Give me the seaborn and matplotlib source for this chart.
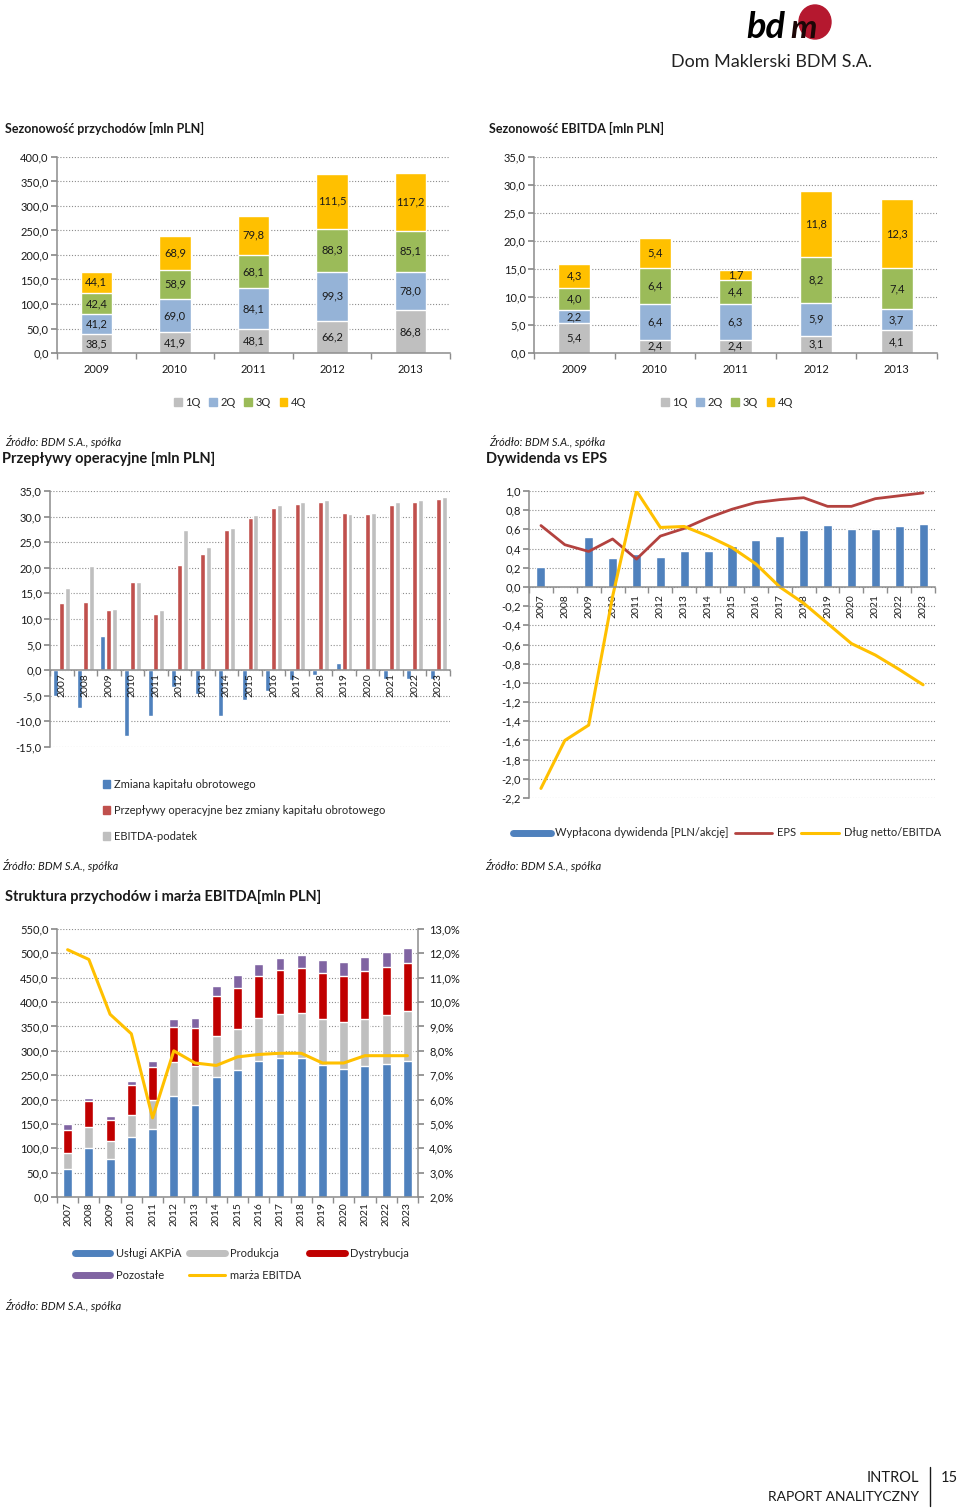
import matplotlib
matplotlib.use("Agg")
import matplotlib.pyplot as plt
import numpy as np
import pandas as pd
import seaborn as sns
from matplotlib.lines import Line2D
from matplotlib.patches import Ellipse, Rectangle
from matplotlib.ticker import FixedLocator, FuncFormatter

# ---------------- data ----------------
q_years = ["2009", "2010", "2011", "2012", "2013"]
quarters = ["1Q", "2Q", "3Q", "4Q"]
rev_1q = [38.5, 41.9, 48.1, 66.2, 86.8]
rev_2q = [41.2, 69.0, 84.1, 99.3, 78.0]
rev_3q = [42.4, 58.9, 68.1, 88.3, 85.1]
rev_4q = [44.1, 68.9, 79.8, 111.5, 117.2]
ebitda_1q = [5.4, 2.4, 2.4, 3.1, 4.1]
ebitda_2q = [2.2, 6.4, 6.3, 5.9, 3.7]
ebitda_3q = [4.0, 6.4, 4.4, 8.2, 7.4]
ebitda_4q = [4.3, 5.4, 1.7, 11.8, 12.3]

years = [str(y) for y in range(2007, 2024)]
wc_change = [-5.1, -7.4, 6.6, -12.9, -8.9, -3.3, -4.6, -8.9, -5.9, -4.1, -2.0, -1.0, 1.4, 0.3, -1.7, -1.8, -1.8]
cf_ex_wc = [13.2, 13.3, 11.8, 17.3, 11.0, 20.6, 22.7, 27.4, 29.7, 31.6, 32.5, 32.9, 30.8, 30.6, 32.2, 32.8, 33.5]
ebitda_tax = [16.0, 20.3, 12.0, 17.3, 11.8, 27.3, 24.1, 27.7, 30.4, 32.2, 32.9, 33.2, 30.5, 30.8, 32.9, 33.2, 33.9]

dividend = [0.21, 0.0, 0.52, 0.30, 0.34, 0.31, 0.37, 0.37, 0.43, 0.49, 0.53, 0.59, 0.65, 0.60, 0.60, 0.64, 0.66]
eps = [0.64, 0.44, 0.37, 0.50, 0.29, 0.53, 0.61, 0.72, 0.81, 0.88, 0.91, 0.93, 0.84, 0.84, 0.92, 0.95, 0.98]
net_debt_ebitda = [-2.10, -1.60, -1.44, -0.10, 1.00, 0.62, 0.63, 0.53, 0.41, 0.24, 0.00, -0.17, -0.38, -0.59, -0.71, -0.86, -1.02]

seg_akpia = [57, 101, 78, 123, 139, 208, 188, 247, 260, 279, 285, 285, 271, 263, 268, 273, 279]
seg_prod = [33, 43, 37, 46, 60, 69, 80, 84, 85, 88, 90, 92, 94, 96, 98, 101, 102]
seg_dist = [48, 53, 43, 60, 67, 71, 78, 81, 84, 86, 90, 93, 94, 95, 97, 98, 100]
seg_other = [11, 6, 8, 10, 14, 18, 21, 22, 26, 26, 26, 26, 27, 29, 29, 31, 31]
ebitda_margin = [12.15, 11.75, 9.5, 8.7, 5.25, 8.0, 7.5, 7.4, 7.75, 7.85, 7.9, 7.9, 7.5, 7.5, 7.8, 7.8, 7.8]

# ---------------- style ----------------
sns.set_theme(style="white")
plt.rcParams["font.family"] = ["Lato", "DejaVu Sans"]

TXT = "#1a1a1a"
GRID = "#8c8c8c"
Q_COLORS = {"1Q": "#bfbfbf", "2Q": "#95b3d7", "3Q": "#9bbb59", "4Q": "#ffc000"}
BLUE, RED, GRAY = "#4f81bd", "#c0504d", "#bfbfbf"
DRED, PURPLE, YELLOW = "#c00000", "#8064a2", "#ffc000"

W, H = 960, 1508
fig = plt.figure(figsize=(W / 100, H / 100), dpi=100)
fig.patch.set_facecolor("white")


def axes_px(x0, y0, x1, y1):
    return fig.add_axes([x0 / W, 1 - y1 / H, (x1 - x0) / W, (y1 - y0) / H])


def ftext(x, y, s, **kw):
    kw.setdefault("va", "center")
    kw.setdefault("color", TXT)
    fig.text(x / W, 1 - y / H, s, **kw)


def pl(v, dec=1):
    return f"{round(v, dec) + 0.0:.{dec}f}".replace(".", ",")


def base_style(ax, ticks, fmt, ncat):
    ax.set_xlim(-0.5, ncat - 0.5)
    ax.set_ylim(ticks[0], ticks[-1])
    ax.yaxis.set_major_locator(FixedLocator(ticks))
    ax.yaxis.set_major_formatter(FuncFormatter(fmt))
    ax.grid(axis="y", color=GRID, linestyle=(0, (1, 1.6)), linewidth=0.8)
    ax.grid(axis="x", visible=False)
    ax.set_axisbelow(True)
    for s in ("top", "right"):
        ax.spines[s].set_visible(False)
    for s in ("left", "bottom"):
        ax.spines[s].set_color(GRID)
        ax.spines[s].set_linewidth(1.1)
    ax.xaxis.set_minor_locator(FixedLocator(np.arange(ncat + 1) - 0.5))
    ax.tick_params(axis="y", which="major", left=True, length=4, color=GRID,
                   labelsize=8, labelcolor=TXT, pad=2)
    ax.tick_params(axis="x", which="major", bottom=True, length=0,
                   labelsize=8, labelcolor=TXT)
    ax.tick_params(axis="x", which="minor", bottom=True, length=4, color=GRID)
    ax.set_xlabel("")
    ax.set_ylabel("")


def stacked_bars(ax, cats, parts, colors, width, labels=False):
    tops = np.cumsum(np.array(parts, dtype=float), axis=0)
    # draw the tallest cumulative level first, then overlay the lower ones
    for i in range(len(parts) - 1, -1, -1):
        sns.barplot(x=cats, y=tops[i], color=colors[i], width=width,
                    saturation=1, errorbar=None, ax=ax)
    if labels:
        for i, vals in enumerate(parts):
            for j, v in enumerate(vals):
                ax.text(j, tops[i][j] - v / 2, pl(v), ha="center", va="center",
                        fontsize=8, color=TXT)


def years_on_zero(ax, labels, pad_pt):
    # year labels hang from the zero line and sit above the bars
    ax.tick_params(axis="x", which="major", labelbottom=False)
    for i, lab in enumerate(labels):
        ax.annotate(lab, (i, 0), xytext=(0, -pad_pt), textcoords="offset points",
                    rotation=90, ha="center", va="top", fontsize=7.5, color=TXT,
                    zorder=6)


q_cols = [Q_COLORS[q] for q in quarters]

# ---------------- chart 1: revenue seasonality ----------------
ax1 = axes_px(57, 157, 450, 353)
stacked_bars(ax1, q_years, [rev_1q, rev_2q, rev_3q, rev_4q], q_cols, 0.4, labels=True)
base_style(ax1, np.arange(0, 401, 50), lambda v, p: pl(v), len(q_years))
ax1.tick_params(axis="x", which="major", pad=8)

# ---------------- chart 2: EBITDA seasonality ----------------
ax2 = axes_px(534, 157, 937, 353)
stacked_bars(ax2, q_years, [ebitda_1q, ebitda_2q, ebitda_3q, ebitda_4q], q_cols, 0.4, labels=True)
base_style(ax2, np.arange(0, 35.1, 5), lambda v, p: pl(v), len(q_years))
ax2.tick_params(axis="x", which="major", pad=8)

q_handles = [Rectangle((0, 0), 1, 1, color=c) for c in q_cols]
for cx in (240, 727):
    fig.legend(q_handles, quarters, loc="center", bbox_to_anchor=(cx / W, 1 - 402 / H),
               ncol=4, frameon=False, fontsize=8, handlelength=0.7, handleheight=0.7,
               handletextpad=0.3, columnspacing=0.8)

# ---------------- chart 3: operating cash flow ----------------
cf_names = ["Zmiana kapitału obrotowego",
            "Przepływy operacyjne bez zmiany kapitału obrotowego",
            "EBITDA-podatek"]
cf_df = pd.DataFrame({
    "year": years * 3,
    "series": np.repeat(cf_names, len(years)),
    "value": wc_change + cf_ex_wc + ebitda_tax,
})
ax3 = axes_px(50, 491, 450, 747)
sns.barplot(data=cf_df, x="year", y="value", hue="series", hue_order=cf_names,
            palette=[BLUE, RED, GRAY], saturation=1, width=0.75, gap=0.15,
            errorbar=None, legend=False, ax=ax3)
base_style(ax3, np.arange(-15, 35.1, 5), lambda v, p: pl(v), len(years))
ax3.spines["bottom"].set_position(("data", 0))
ax3.set_xticks(range(len(years)))
years_on_zero(ax3, years, 2)

cf_handles = [Rectangle((0, 0), 1, 1, color=c) for c in (BLUE, RED, GRAY)]
fig.legend(cf_handles, cf_names, loc="upper left", bbox_to_anchor=(97 / W, 1 - 773 / H),
           frameon=False, fontsize=8, handlelength=0.7, handleheight=0.7,
           handletextpad=0.3, labelspacing=1.35, borderpad=0)

# ---------------- chart 4: dividend vs EPS ----------------
ax4 = axes_px(529, 491, 935, 798)
sns.barplot(x=years, y=dividend, color=BLUE, width=0.38, saturation=1,
            errorbar=None, ax=ax4)
xpos = np.arange(len(years))
sns.lineplot(x=xpos, y=eps, color="#b3423f", linewidth=2.0, ax=ax4)
sns.lineplot(x=xpos, y=net_debt_ebitda, color=YELLOW, linewidth=2.2, ax=ax4)
base_style(ax4, np.round(np.arange(-2.2, 1.01, 0.2), 1), lambda v, p: pl(v), len(years))
ax4.spines["bottom"].set_position(("data", 0))
ax4.set_xticks(range(len(years)))
ax4.set_xticklabels(years, rotation=90, fontsize=7.5)
ax4.tick_params(axis="x", which="major", pad=5)

div_handles = [Line2D([0], [0], color=BLUE, lw=5),
               Line2D([0], [0], color="#b3423f", lw=2),
               Line2D([0], [0], color=YELLOW, lw=2.2)]
fig.legend(div_handles, ["Wypłacona dywidenda [PLN/akcję]", "EPS", "Dług netto/EBITDA"],
           loc="center", bbox_to_anchor=(727 / W, 1 - 833 / H), ncol=3, frameon=False,
           fontsize=8, handlelength=3.4, handletextpad=0.4, columnspacing=0.5)

# ---------------- chart 5: revenue structure ----------------
ax5 = axes_px(57, 929, 418, 1197)
stacked_bars(ax5, years, [seg_akpia, seg_prod, seg_dist, seg_other],
             [BLUE, GRAY, DRED, PURPLE], 0.42)
base_style(ax5, np.arange(0, 551, 50), lambda v, p: pl(v), len(years))
ax5.set_xticks(range(len(years)))
ax5.set_xticklabels(years, rotation=90, fontsize=7.5)
ax5.tick_params(axis="x", which="major", pad=4)

ax5r = ax5.twinx()
sns.lineplot(x=xpos, y=ebitda_margin, color=YELLOW, linewidth=2.2, ax=ax5r)
ax5r.set_ylim(2, 13)
ax5r.yaxis.set_major_locator(FixedLocator(np.arange(2, 13.1, 1)))
ax5r.yaxis.set_major_formatter(FuncFormatter(lambda v, p: pl(v) + "%"))
for s in ("top", "left", "bottom"):
    ax5r.spines[s].set_visible(False)
ax5r.spines["right"].set_color(GRID)
ax5r.spines["right"].set_linewidth(1.1)
ax5r.grid(False)
ax5r.tick_params(axis="y", right=True, length=4, color=GRID, labelsize=8,
                 labelcolor=TXT, pad=4)
ax5r.set_ylabel("")
ax5.set_xlim(-0.5, len(years) - 0.5)

seg_handles = {
    "Usługi AKPiA": Line2D([0], [0], color=BLUE, lw=5),
    "Produkcja": Line2D([0], [0], color=GRAY, lw=5),
    "Dystrybucja": Line2D([0], [0], color=DRED, lw=5),
    "Pozostałe": Line2D([0], [0], color=PURPLE, lw=5),
    "marża EBITDA": Line2D([0], [0], color=YELLOW, lw=2.2),
}
seg_order = ["Usługi AKPiA", "Pozostałe", "Produkcja", "marża EBITDA", "Dystrybucja"]
fig.legend([seg_handles[k] for k in seg_order], seg_order, loc="upper left",
           bbox_to_anchor=(69 / W, 1 - 1242 / H), ncol=3, frameon=False, fontsize=8,
           handlelength=3.2, handletextpad=0.5, columnspacing=0.7, labelspacing=1.0,
           borderpad=0)

# ---------------- page text ----------------
ftext(5, 128, "Sezonowość przychodów [mln PLN]", fontsize=9, fontweight="bold")
ftext(489, 128, "Sezonowość EBITDA [mln PLN]", fontsize=9, fontweight="bold")
src = "Źródło: BDM S.A., spółka"
ftext(5, 441, src, fontsize=8, style="italic")
ftext(489, 441, src, fontsize=8, style="italic")
ftext(2, 459, "Przepływy operacyjne [mln PLN]", fontsize=10.5, fontweight="bold")
ftext(486, 459, "Dywidenda vs EPS", fontsize=10.5, fontweight="bold")
ftext(2, 866, src, fontsize=8, style="italic")
ftext(485, 866, src, fontsize=8, style="italic")
ftext(5, 897, "Struktura przychodów i marża EBITDA[mln PLN]", fontsize=10.5, fontweight="bold")
ftext(5, 1306, src, fontsize=8, style="italic")

# logo
fig.patches.append(Ellipse((815 / W, 1 - 22 / H), 32 / W, 34 / H, color="#b5182f",
                           transform=fig.transFigure, zorder=1))
ftext(746, 28, "bd", fontsize=26, fontweight="bold", style="italic", color="black", zorder=2)
ftext(790, 29, "m", fontsize=24, fontweight="bold", style="italic", color="#1c0606", zorder=2)
ftext(671, 62, "Dom Maklerski BDM S.A.", fontsize=13, color="#222222")

# footer
ftext(919, 1478, "INTROL", fontsize=10.5, ha="right")
ftext(919, 1497, "RAPORT ANALITYCZNY", fontsize=10, ha="right")
fig.add_artist(Line2D([930 / W, 930 / W], [1 - 1467 / H, 1 - 1506 / H], color=TXT, lw=1))
ftext(941, 1478, "15", fontsize=10.5)

fig.savefig("out.png", dpi=100, facecolor="white")
